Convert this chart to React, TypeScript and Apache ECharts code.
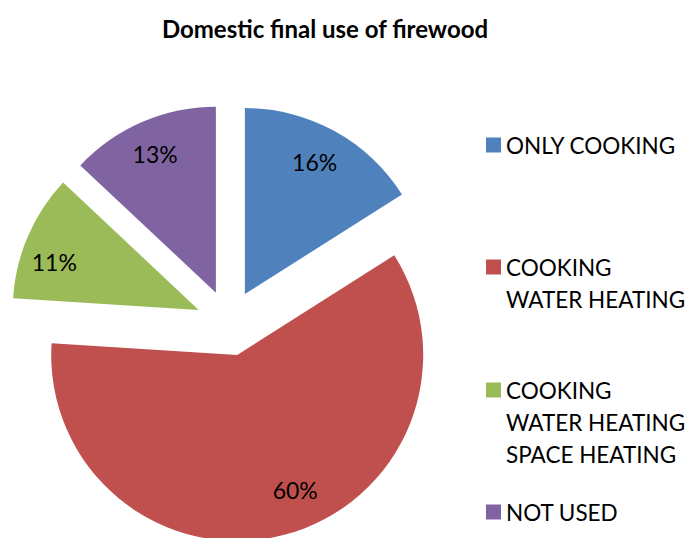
import React, { useEffect, useRef } from "react";
import * as echarts from "echarts";

const categories = [
  "ONLY COOKING",
  "COOKING\nWATER HEATING",
  "COOKING\nWATER HEATING\nSPACE HEATING",
  "NOT USED",
];
const values = [16, 60, 11, 13];
const colors = ["#4F81BD", "#C0504D", "#9BBB59", "#8064A2"];
const legendTops = [129, 219, 310, 496];
const labelShifts = [
  [-4, 2],
  [20, -13],
  [-4, 13],
  [0, 2],
];

const FONT = "Lato";
const LH = 32;

export default function App() {
  const ref = useRef<HTMLDivElement>(null);
  useEffect(() => {
    if (!ref.current) return;
    const chart = echarts.init(ref.current, undefined, { renderer: "svg" });
    const data = categories.map((name, i) => ({
      name,
      value: values[i],
      selected: true,
      itemStyle: { color: colors[i] },
    }));
    const labelData = categories.map((name, i) => ({
      name,
      value: values[i],
      selected: true,
    }));
    const legends = categories.map((name, i) => {
      const n = name.split("\n").length;
      return {
        data: [name],
        left: 486,
        top: legendTops[i],
        orient: "vertical" as const,
        padding: 0,
        icon: "rect",
        itemWidth: 15,
        itemHeight: 15,
        itemGap: 0,
        selectedMode: false,
        formatter: (nm: string) => "\n".repeat(n - 1) + nm,
        textStyle: {
          fontFamily: FONT,
          fontSize: 22.5,
          color: "#000",
          lineHeight: LH,
        },
      };
    });
    chart.setOption({
      animation: false,
      title: {
        text: "Domestic final use of firewood",
        left: 320,
        top: 11,
        textAlign: "center",
        textStyle: { fontFamily: FONT, fontSize: 24, fontWeight: "bold", color: "#000" },
      },
      legend: legends,
      series: [
        {
          type: "pie",
          center: [229, 323],
          radius: [0, 186],
          startAngle: 90,
          clockwise: true,
          selectedMode: "multiple",
          selectedOffset: 33,
          label: { show: false },
          labelLine: { show: false },
          emphasis: { disabled: true },
          data,
        },
        {
          type: "pie",
          center: [229, 323],
          radius: [114, 186],
          startAngle: 90,
          clockwise: true,
          selectedMode: "multiple",
          selectedOffset: 33,
          silent: true,
          itemStyle: { color: "rgba(0,0,0,0)" },
          label: {
            show: true,
            position: "inside",
            formatter: "{c}%",
            fontFamily: FONT,
            fontSize: 23,
            color: "#000",
          },
          labelLayout: (p: any) => ({
            dx: labelShifts[p.dataIndex][0],
            dy: labelShifts[p.dataIndex][1],
          }),
          labelLine: { show: false },
          emphasis: { disabled: true },
          data: labelData,
        },
      ],
    });
    return () => chart.dispose();
  }, []);
  return <div ref={ref} style={{ width: 694, height: 538, position: "absolute", left: 0, top: 0 }} />;
}
